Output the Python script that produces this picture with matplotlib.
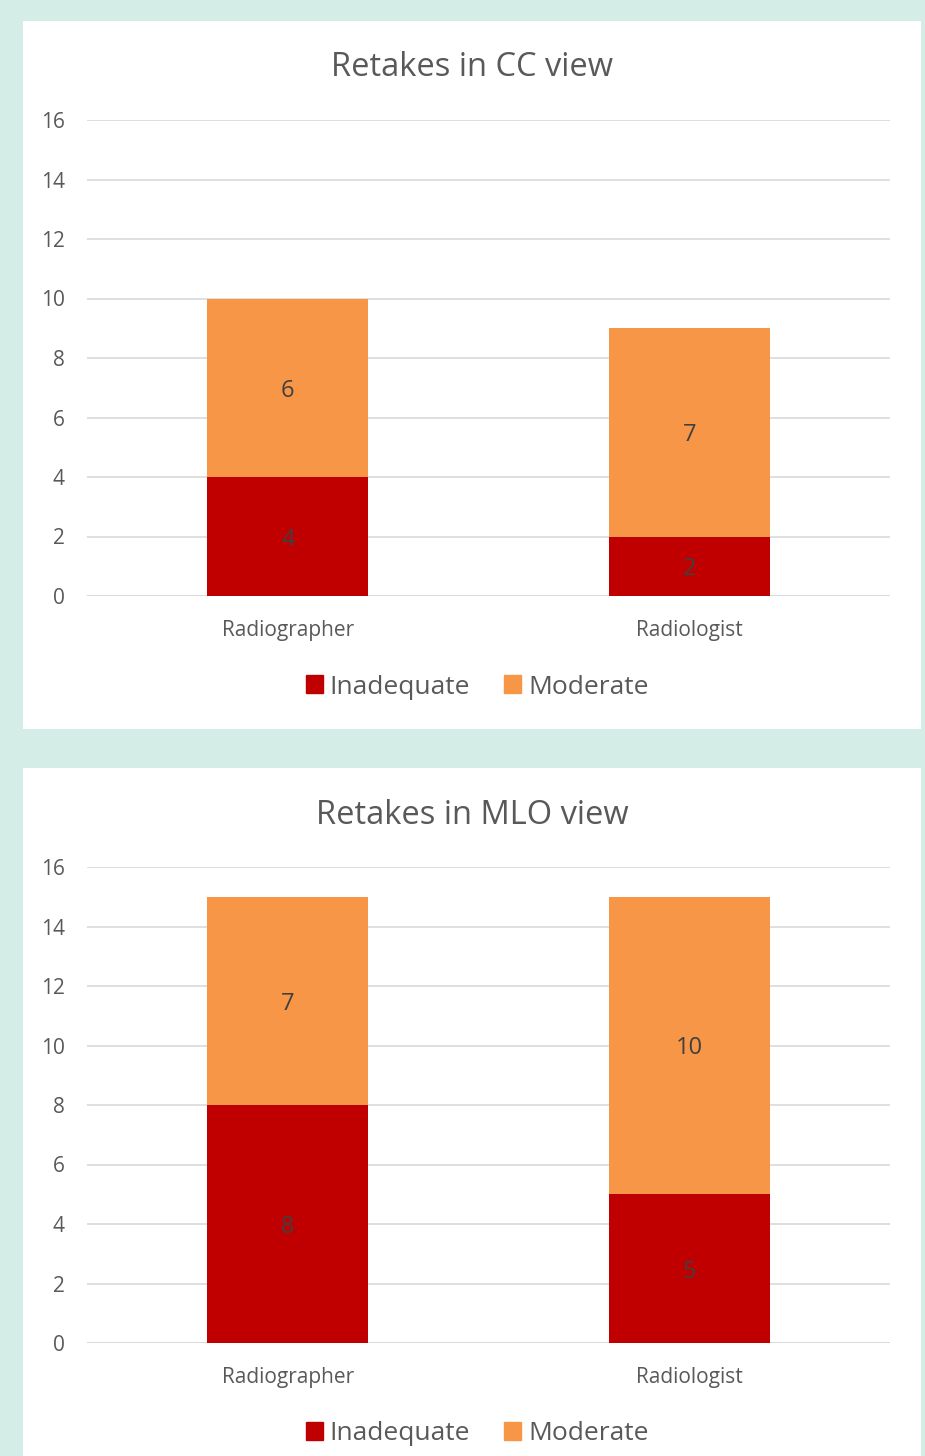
import matplotlib
matplotlib.use("Agg")
import matplotlib.pyplot as plt
from matplotlib.patches import Rectangle, Patch

#### DATA ####
categories = ["Radiographer", "Radiologist"]
cc_inadequate = [4, 2]
cc_moderate = [6, 7]
mlo_inadequate = [8, 5]
mlo_moderate = [7, 10]
titles = ["Retakes in CC view", "Retakes in MLO view"]
series_names = ["Inadequate", "Moderate"]
yticks = [0, 2, 4, 6, 8, 10, 12, 14, 16]

RED = "#c00000"
ORANGE = "#f79646"
GRID = "#d9d9d9"
TXT = "#595959"
BG = "#d4ede6"

W, H = 925, 1456
plt.rcParams['font.family'] = ['Open Sans', 'DejaVu Sans']


def px(x0, y0, x1, y1):
    # pixel box (top-left origin) -> figure fraction rect
    return [x0 / W, 1 - y1 / H, (x1 - x0) / W, (y1 - y0) / H]


def draw_panel(fig, top, inadequate, moderate, title):
    # white card behind the chart
    card = Rectangle((23 / W, 1 - (top + 708) / H), 898 / W, 708 / H,
                     transform=fig.transFigure, facecolor="white",
                     edgecolor="none", zorder=-5)
    fig.add_artist(card)
    ax = fig.add_axes(px(87, top + 99, 890, top + 575))
    ax.set_facecolor("none")
    xs = range(len(categories))
    ax.bar(xs, inadequate, width=0.4, color=RED, zorder=2)
    ax.bar(xs, moderate, width=0.4, bottom=inadequate, color=ORANGE, zorder=2)
    for i in xs:
        ax.text(i, inadequate[i] / 2, str(inadequate[i]), ha="center",
                va="center_baseline", fontsize=17, color="#404040", zorder=3)
        ax.text(i, inadequate[i] + moderate[i] / 2, str(moderate[i]), ha="center",
                va="center_baseline", fontsize=17, color="#404040", zorder=3)
    ax.set_xlim(-0.5, 1.5)
    ax.set_ylim(0, 16)
    ax.set_yticks(yticks)
    ax.set_xticks(list(xs))
    ax.set_xticklabels(categories, fontsize=15, color=TXT)
    ax.tick_params(axis="y", labelsize=15, labelcolor=TXT, length=0, pad=16)
    ax.tick_params(axis="x", length=0, pad=17.5)
    ax.grid(True, axis="y", color=GRID, linewidth=1.2, zorder=0)
    for s in ax.spines.values():
        s.set_visible(False)
    ax.axhline(0, color=GRID, linewidth=1.2, zorder=1)
    fig.text(472 / W, 1 - (top + 47) / H, title, ha="center", va="center",
             fontsize=23.5, color=TXT)
    handles = [Patch(color=RED, label=series_names[0]),
               Patch(color=ORANGE, label=series_names[1])]
    fig.legend(handles=handles, loc="center", bbox_to_anchor=(477 / W, 1 - (top + 666) / H),
               ncol=2, frameon=False, fontsize=19, labelcolor=TXT,
               handlelength=0.65, handleheight=0.65, handletextpad=0.25, columnspacing=1.3)


fig = plt.figure(figsize=(W / 100, H / 100), dpi=100)
fig.set_facecolor(BG)
draw_panel(fig, 21, cc_inadequate, cc_moderate, titles[0])
draw_panel(fig, 768, mlo_inadequate, mlo_moderate, titles[1])
fig.savefig("out.png", dpi=100, facecolor=BG)
